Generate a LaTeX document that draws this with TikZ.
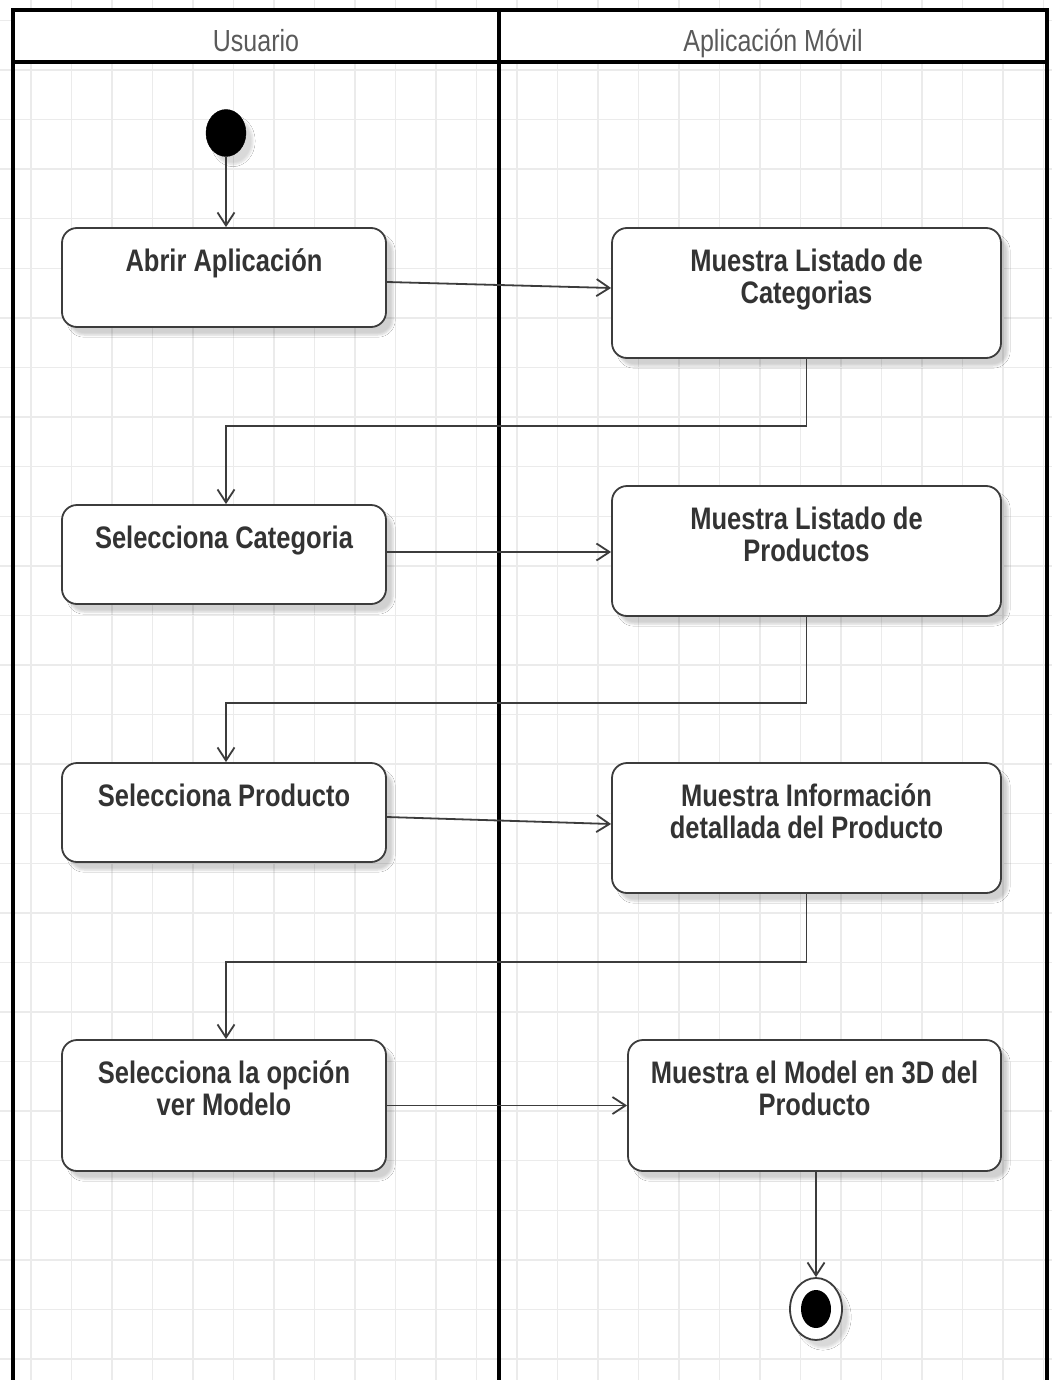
\documentclass[tikz,border=0pt]{standalone}
\usepackage{fontspec}
\setmainfont{Liberation Sans}
\usepackage{graphicx}
\usetikzlibrary{arrows.meta,shadows.blur,shapes.geometric,calc}

\definecolor{gridc}{HTML}{EBEBEB}
\definecolor{inkc}{HTML}{333333}
\definecolor{edgec}{HTML}{3C3C3C}
\definecolor{headc}{HTML}{5A5A5A}

% glyphs are drawn slightly taller than wide
\newcommand{\tallt}[1]{\scalebox{1}[1.22]{#1}}
\newcommand{\boxfont}{\fontsize{25.5}{32}\selectfont\bfseries\setlength{\lineskiplimit}{-100pt}}
\newcommand{\headfont}{\fontsize{25}{30}\selectfont}

\begin{document}
\begin{tikzpicture}[x=1pt,y=-1pt,
  gridline/.style={draw=gridc,line width=1.4pt},
  laneline/.style={draw=black,line width=3.6pt},
  headtext/.style={text=headc,font=\headfont,inner sep=0pt,anchor=base},
  actbox/.style={draw=edgec,line width=1.8pt,rounded corners=15pt,fill=white,
    blur shadow={shadow xshift=7pt,shadow yshift=-8pt,shadow blur steps=6,shadow opacity=18}},
  acttext/.style={text=inkc,align=center,inner sep=0pt,anchor=north,font=\boxfont},
  flow/.style={draw=edgec,line width=1.8pt,-{Straight Barb[length=13pt,width=17pt,line width=1.8pt]}},
  startnode/.style={ellipse,fill=black,draw=black,minimum width=40pt,minimum height=47pt,inner sep=0pt,
    blur shadow={shadow xshift=7pt,shadow yshift=-8pt,shadow blur steps=6,shadow opacity=15}},
]
\useasboundingbox (0,0) rectangle (1052,1380);
\fill[white] (0,0) rectangle (1052,1380);

% background grid
\foreach \k in {0,...,25}
  \draw[gridline] ({31+40.5*\k},0) -- ({31+40.5*\k},1380);
\foreach \k in {-1,...,26}
  \draw[gridline] (0,{70+49.58*\k}) -- (1052,{70+49.58*\k});

% swimlanes
\fill[white] (13,10) rectangle (1047,62);
\draw[laneline] (13,1380) -- (13,10) -- (1047,10) -- (1047,1380);
\draw[laneline] (13,62) -- (1047,62);
\draw[laneline] (499,10) -- (499,1380);
\node[headtext] (lane-user) at (256,52) {\tallt{Usuario}};
\node[headtext] (lane-app) at (773,52) {\tallt{Aplicación Móvil}};

% start and end
\node[startnode] (start) at (226,133) {};
\node[ellipse,draw=edgec,fill=white,line width=1.8pt,minimum width=52pt,minimum height=62pt,inner sep=0pt,
  blur shadow={shadow xshift=7pt,shadow yshift=-8pt,shadow blur steps=6,shadow opacity=15}] (end) at (816,1309) {};
\node[ellipse,fill=black,minimum width=30pt,minimum height=38pt,inner sep=0pt] (end-dot) at (816,1309) {};

% user actions
\node[actbox,minimum width=324pt,minimum height=99pt] (abrir) at (224,277.5) {};
\node[actbox,minimum width=324pt,minimum height=99pt] (selcat) at (224,554.5) {};
\node[actbox,minimum width=324pt,minimum height=99pt] (selprod) at (224,812.5) {};
\node[actbox,minimum width=324pt,minimum height=131pt] (selmod) at (224,1105.5) {};

% application actions
\node[actbox,minimum width=389pt,minimum height=130pt] (listcat) at (806.5,293) {};
\node[actbox,minimum width=389pt,minimum height=130pt] (listprod) at (806.5,551) {};
\node[actbox,minimum width=389pt,minimum height=130pt] (info) at (806.5,828) {};
\node[actbox,minimum width=373pt,minimum height=131pt] (model) at (814.5,1105.5) {};

% labels
\node[acttext] (abrir-t) at ([yshift=-21.5pt]abrir.north) {\tallt{Abrir Aplicación}};
\node[acttext] (selcat-t) at ([yshift=-21.5pt]selcat.north) {\tallt{Selecciona Categoria}};
\node[acttext] (selprod-t) at ([yshift=-21.5pt]selprod.north) {\tallt{Selecciona Producto}};
\node[acttext] (selmod-t) at ([yshift=-21.5pt]selmod.north) {\tallt{Selecciona la opción}\\\tallt{ver Modelo}};
\node[acttext] (listcat-t) at ([yshift=-21.5pt]listcat.north) {\tallt{Muestra Listado de}\\\tallt{Categorias}};
\node[acttext] (listprod-t) at ([yshift=-21.5pt]listprod.north) {\tallt{Muestra Listado de}\\\tallt{Productos}};
\node[acttext] (info-t) at ([yshift=-21.5pt]info.north) {\tallt{Muestra Información}\\\tallt{detallada del Producto}};
\node[acttext] (model-t) at ([yshift=-21.5pt]model.north) {\tallt{Muestra el Model en 3D del}\\\tallt{Producto}};

% junctions of the return flows
\coordinate (j1) at (226,426);
\coordinate (j2) at (226,703);
\coordinate (j3) at (226,962);

% flows
\draw[flow] (start) -- (start |- abrir.north);
\draw[flow] ([yshift=-4.5pt]abrir.east) -- ([yshift=5pt]listcat.west);
\draw[flow] (listcat.south) |- (j1) -- (j1 |- selcat.north);
\draw[flow] ([yshift=2.5pt]selcat.east) -- ([yshift=-1pt]listprod.west);
\draw[flow] (listprod.south) |- (j2) -- (j2 |- selprod.north);
\draw[flow] ([yshift=-4.5pt]selprod.east) -- ([yshift=4pt]info.west);
\draw[flow] (info.south) |- (j3) -- (j3 |- selmod.north);
\draw[flow] (selmod.east) -- (model.west);
\draw[flow] ([xshift=1.5pt]model.south) -- ([xshift=1.5pt]model.south |- end.north);
\end{tikzpicture}
\end{document}
